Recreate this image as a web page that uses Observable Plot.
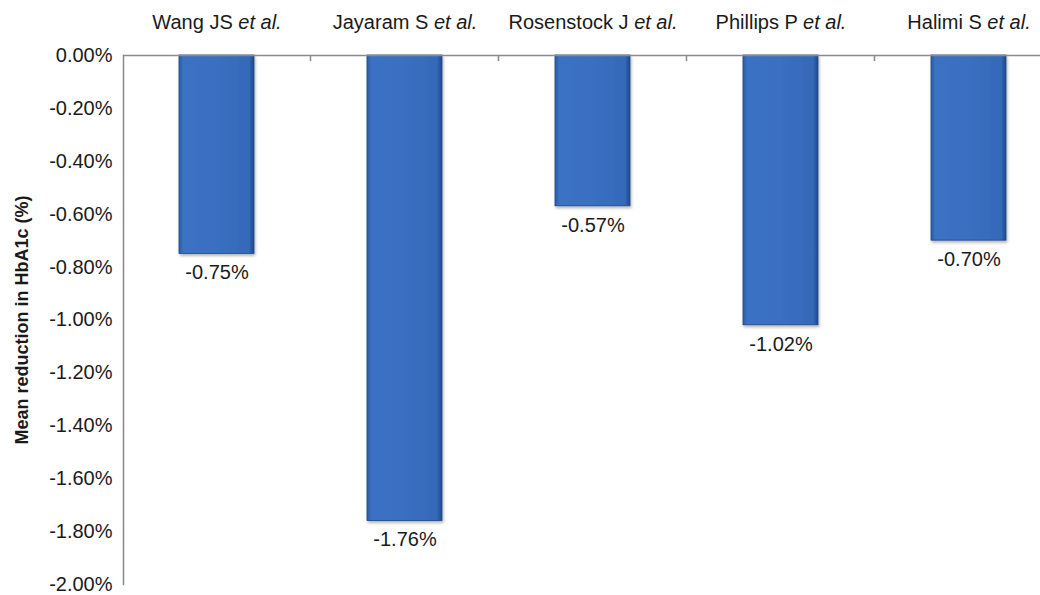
<!DOCTYPE html>
<html>
<head>
<meta charset="utf-8">
<script src="https://cdn.jsdelivr.net/npm/d3@7"></script>
<script src="https://cdn.jsdelivr.net/npm/@observablehq/plot@0.6"></script>
<style>
  html, body { margin: 0; padding: 0; background: #fff; }
  svg { font-family: "Liberation Sans", Arial, Helvetica, sans-serif; }
</style>
</head>
<body>
<div id="chart"></div>
<script>
const authors = ["Wang JS", "Jayaram S", "Rosenstock J", "Phillips P", "Halimi S"];
const suffix = "et al.";
const reductions = [-0.75, -1.76, -0.57, -1.02, -0.70];
const yTicks = [0, -0.2, -0.4, -0.6, -0.8, -1.0, -1.2, -1.4, -1.6, -1.8, -2.0];
const yLabel = "Mean reduction in HbA1c (%)";

const data = authors.map((a, i) => ({author: a, value: reductions[i]}));
const pct = d => d.toFixed(2) + "%";

const gradient = () => {
  const svgNS = "http://www.w3.org/2000/svg";
  const g = document.createElementNS(svgNS, "g");
  g.innerHTML = `<defs>
    <linearGradient id="barGrad" x1="0" y1="0" x2="1" y2="0">
      <stop offset="0%" stop-color="#2a5ca8"/>
      <stop offset="6%" stop-color="#3b72c3"/>
      <stop offset="50%" stop-color="#3a6fc0"/>
      <stop offset="93%" stop-color="#356ab9"/>
      <stop offset="100%" stop-color="#22498a"/>
    </linearGradient>
    <filter id="barShadow" x="-10%" y="-5%" width="130%" height="115%">
      <feDropShadow dx="1" dy="2" stdDeviation="1.5" flood-color="#000" flood-opacity="0.3"/>
    </filter>
  </defs>`;
  return g;
};

const plot = Plot.plot({
  width: 1040,
  height: 595,
  marginLeft: 123,
  marginTop: 55,
  marginBottom: 11,
  marginRight: 0,
  style: {fontFamily: '"Liberation Sans", Arial, Helvetica, sans-serif', color: "#1a1a1a", background: "#fff"},
  x: {type: "band", domain: authors, range: [123, 1063], paddingInner: 0.6, paddingOuter: 0.3},
  y: {domain: [-2, 0], range: [584, 55]},
  marks: [
    gradient,
    Plot.barY(data, {x: "author", y: "value", fill: "url(#barGrad)", stroke: "#1d4482", strokeWidth: 0.8}),
    Plot.frame({anchor: "left", stroke: "#8a8a8a", strokeWidth: 1.5}),
    Plot.ruleY([0], {stroke: "#8a8a8a", strokeWidth: 1.5}),
    Plot.axisX({anchor: "top", tickSize: 0, tickPadding: 27, fontSize: 20, label: null}),
    Plot.axisY({ticks: yTicks, tickFormat: pct, tickSize: 0, tickPadding: 11, fontSize: 20,
                label: yLabel, labelAnchor: "center", labelOffset: 108, labelArrow: "none"}),
    Plot.text(data, {x: "author", y: "value", text: d => pct(d.value), dy: 19, lineAnchor: "middle", fontSize: 20, fill: "#1a1a1a"})
  ]
});

const svg = d3.select(plot);
// apply shadow to bars
svg.selectAll('g[aria-label="bar"] rect').attr("filter", "url(#barShadow)");
// italic "et al."
svg.selectAll('g[aria-label="x-axis tick label"] text').each(function() {
  const t = d3.select(this);
  const name = t.text();
  t.text(null);
  t.append("tspan").text(name + " ");
  t.append("tspan").attr("font-style", "italic").text(suffix);
});
// bold y label
svg.selectAll('g[aria-label="y-axis label"] text').attr("font-weight", "bold").attr("font-size", 18);
// category boundary ticks
const xs = plot.scale("x");
const half = xs.bandwidth / 2 + xs.step / 2;
const tickG = svg.append("g").attr("stroke", "#8a8a8a").attr("stroke-width", 1.5);
authors.slice(0, -1).forEach(a => {
  const bx = xs.apply(a) + half;
  tickG.append("line").attr("x1", bx).attr("x2", bx).attr("y1", 55).attr("y2", 61);
});

document.getElementById("chart").appendChild(plot);
</script>
</body>
</html>
